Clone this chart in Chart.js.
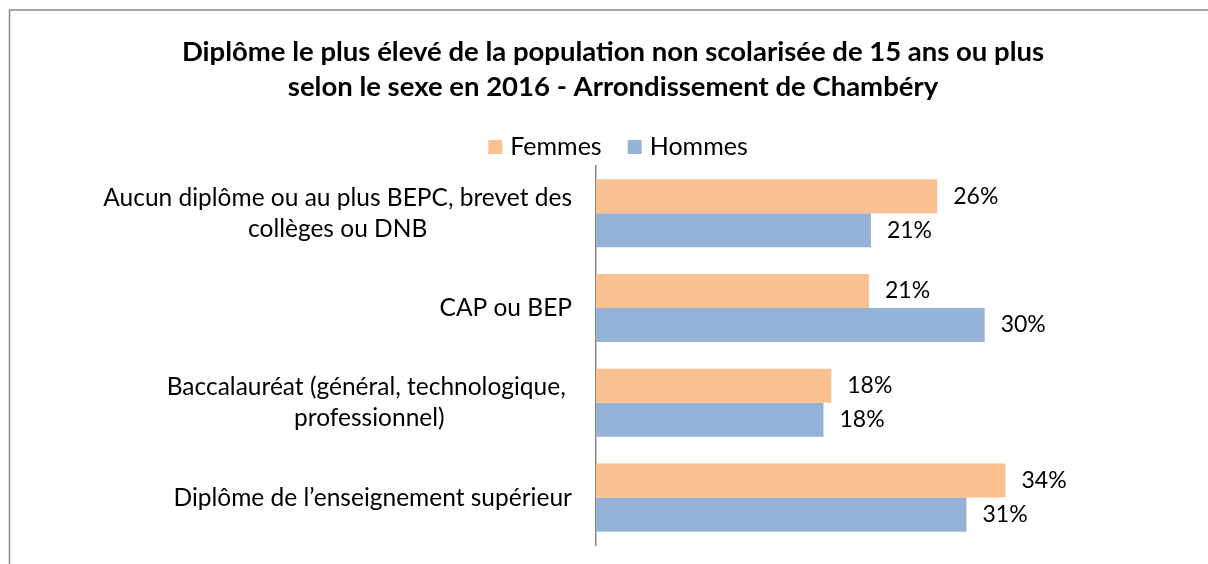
<!DOCTYPE html>
<html>
<head>
<meta charset="utf-8">
<script src="https://cdn.jsdelivr.net/npm/chart.js@4/dist/chart.umd.min.js"></script>
<style>
  html, body { margin: 0; padding: 0; background: #fff; }
  #wrap { width: 1208px; height: 564px; }
</style>
</head>
<body>
<div id="wrap"><canvas id="chart"></canvas></div>
<script>
// --- Data ---
const categories = [
  ['Aucun diplôme ou au plus BEPC, brevet des', 'collèges ou DNB'],
  'CAP ou BEP',
  ['Baccalauréat (général, technologique, ', 'professionnel)'],
  'Diplôme de l’enseignement supérieur'
];
const seriesNames = ['Femmes', 'Hommes'];
// bar lengths as drawn (in %)
const femmes = [26.25, 21.0, 18.1, 31.5];
const hommes = [21.15, 29.9, 17.5, 28.5];
// the printed labels
const femmesLabels = ['26%', '21%', '18%', '34%'];
const hommesLabels = ['21%', '30%', '18%', '31%'];

const FONT = 'Lato, "Open Sans", sans-serif';
const textColor = '#000';
const padLeft = 18;

// frame round the chart
const framePlugin = {
  id: 'frame',
  beforeDraw(chart) {
    const c = chart.ctx;
    c.save();
    c.fillStyle = '#fff';
    c.fillRect(0, 0, chart.width, chart.height);
    c.strokeStyle = '#878787';
    c.lineWidth = 1.5;
    c.strokeRect(9.5, 10, 1400, 800);
    c.restore();
  }
};

// legend in the Excel style: small square, tight gap, wide spacing
const legendPlugin = {
  id: 'excelLegend',
  afterDraw(chart) {
    const c = chart.ctx;
    const box = 14, gap = 8, spacing = 26, cy = 147, cx = 618;
    c.save();
    c.font = '25px ' + FONT;
    c.textBaseline = 'middle';
    c.textAlign = 'left';
    const items = chart.data.datasets.map(ds => ({
      text: ds.label, color: ds.backgroundColor, w: c.measureText(ds.label).width
    }));
    const total = items.reduce((s, it) => s + box + gap + it.w, 0) + spacing * (items.length - 1);
    let x = cx - total / 2;
    items.forEach(it => {
      c.fillStyle = it.color;
      c.fillRect(x, cy - box / 2, box, box);
      c.fillStyle = textColor;
      c.fillText(it.text, x + box + gap, cy);
      x += box + gap + it.w + spacing;
    });
    c.restore();
  }
};

// category labels: block right aligned, lines centered in the block
const catLabels = {
  id: 'catLabels',
  afterDraw(chart) {
    const c = chart.ctx, y = chart.scales.y;
    const right = 572, lh = 31;
    c.save();
    c.font = '24.5px ' + FONT;
    c.fillStyle = textColor;
    c.textBaseline = 'middle';
    categories.forEach((lab, i) => {
      const lines = Array.isArray(lab) ? lab : [lab];
      const w = Math.max(...lines.map(l => c.measureText(l).width));
      const cy = y.getPixelForTick(i);
      lines.forEach((l, k) => {
        const ly = cy + (k - (lines.length - 1) / 2) * lh;
        if (lines.length > 1) {
          c.textAlign = 'center';
          c.fillText(l, right - w / 2, ly);
        } else {
          c.textAlign = 'right';
          c.fillText(l, right, ly);
        }
      });
    });
    c.restore();
  }
};

// value labels at the end of each bar
const valueLabels = {
  id: 'valueLabels',
  afterDatasetsDraw(chart) {
    const c = chart.ctx;
    const texts = [femmesLabels, hommesLabels];
    c.save();
    c.font = '23px ' + FONT;
    c.fillStyle = textColor;
    c.textAlign = 'left';
    c.textBaseline = 'middle';
    chart.data.datasets.forEach((ds, d) => {
      chart.getDatasetMeta(d).data.forEach((bar, i) => {
        c.fillText(texts[d][i], bar.x + 16, bar.y);
      });
    });
    c.restore();
  }
};

new Chart(document.getElementById('chart'), {
  type: 'bar',
  data: {
    labels: categories,
    datasets: [
      { label: seriesNames[0], data: femmes, backgroundColor: '#FAC090' },
      { label: seriesNames[1], data: hommes, backgroundColor: '#95B3D7' }
    ]
  },
  options: {
    indexAxis: 'y',
    responsive: true,
    maintainAspectRatio: false,
    animation: false,
    layout: { padding: { left: padLeft, right: 0, top: 0, bottom: 19 } },
    datasets: { bar: { categoryPercentage: 0.718, barPercentage: 1 } },
    scales: {
      x: { display: false, min: 0, max: 47.08 },
      y: {
        grid: { display: false },
        border: { display: true, color: '#878787', width: 1.5 },
        ticks: { display: false },
        afterFit(scale) { scale.width = 596 - padLeft; }
      }
    },
    plugins: {
      tooltip: { enabled: false },
      legend: { display: false },
      title: {
        display: true,
        text: [
          'Diplôme le plus élevé de la population non scolarisée de 15 ans ou plus',
          'selon le sexe en 2016 - Arrondissement de Chambéry'
        ],
        color: textColor,
        font: { family: FONT, size: 27.5, weight: 'bold', lineHeight: 1.27 },
        padding: { top: 35, bottom: 61 }
      }
    }
  },
  plugins: [framePlugin, catLabels, valueLabels, legendPlugin]
});
</script>
</body>
</html>
